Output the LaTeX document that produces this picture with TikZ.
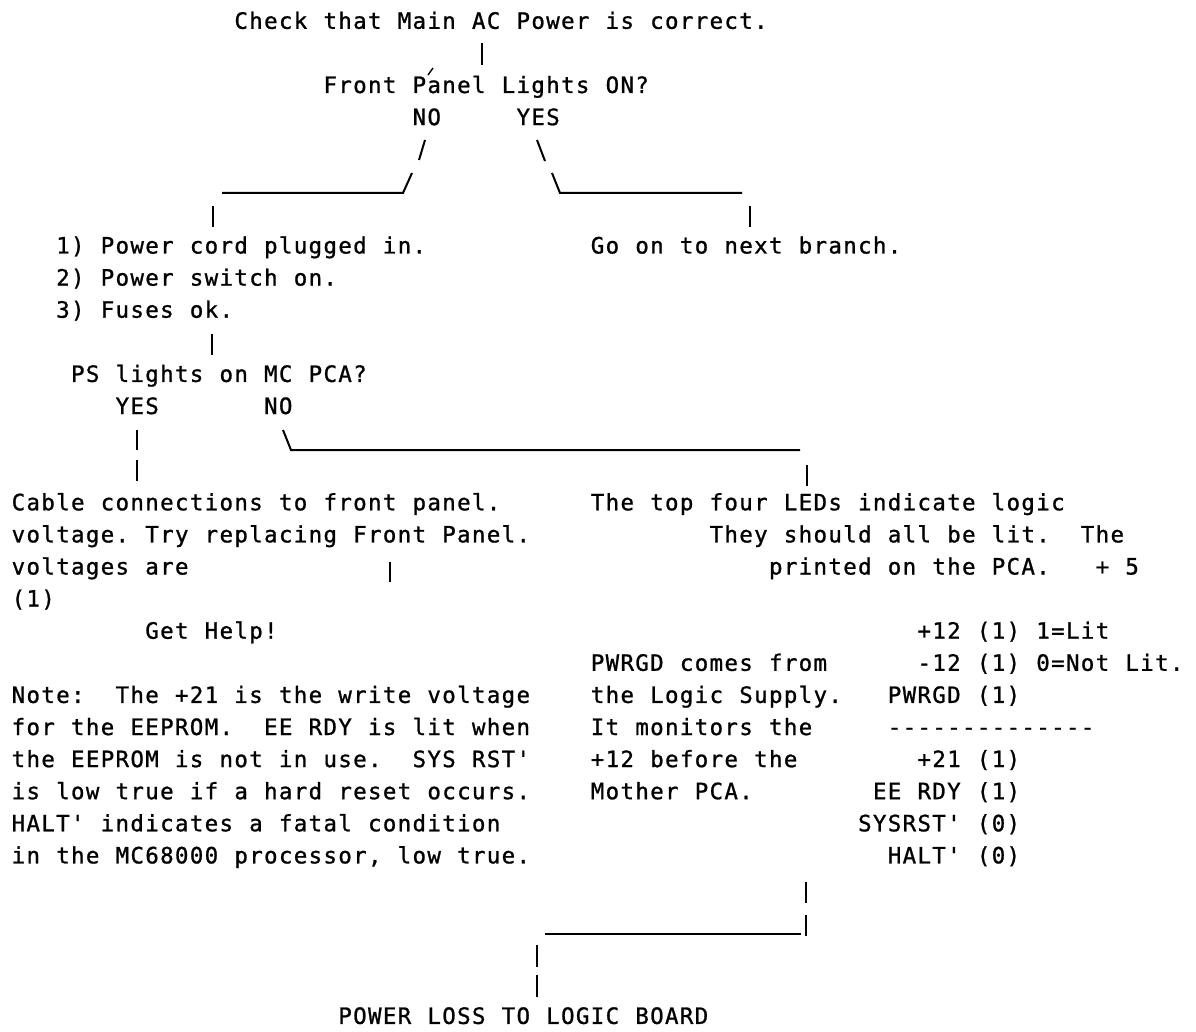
\documentclass[tikz,border=0pt]{standalone}
\usepackage{fontspec}
\newfontfamily\dvmono{DejaVu Sans Mono}[FakeBold=1]
\ExplSyntaxOn
\dim_new:N \l_rs_pitch_dim
\dim_set:Nn \l_rs_pitch_dim {14.85pt}
\NewDocumentCommand \mono {m}
 {
  \str_map_inline:nn {#1}
   {
    \str_if_eq:nnTF {##1} {`}
     { \hbox_to_wd:nn { \l_rs_pitch_dim } { } }
     { \hbox_to_wd:nn { \l_rs_pitch_dim } { \hss ##1 \hss } }
   }
 }
\ExplSyntaxOff
\newcommand\rowtext[4]{\node[txt] (#1) at ({11+#2*14.85},{28.8+#3*32.1}) {\mono{#4}};}
\tikzset{
  txt/.style={inner sep=0pt, outer sep=0pt, anchor=base west, font=\dvmono\fontsize{22.5}{26}\selectfont},
  ln/.style={line width=2pt},
  bar/.style={line width=2.4pt},
  thinbar/.style={line width=1.6pt},
}
\begin{document}
\begin{tikzpicture}[x=1pt,y=-1pt]
\useasboundingbox (0,0) rectangle (1196,1032);
% ---- texts ----
\rowtext{check}{15}{0}{Check that Main AC Power is correct.}
\rowtext{front}{21}{2}{Front Panel Lights ON?}
\rowtext{no1}{27}{3}{NO}
\rowtext{yes1}{34}{3}{YES}
\rowtext{l1}{3}{7}{1) Power cord plugged in.}
\rowtext{goon}{39}{7}{Go on to next branch.}
\rowtext{l2}{3}{8}{2) Power switch on.}
\rowtext{l3}{3}{9}{3) Fuses ok.}
\rowtext{ps}{4}{11}{PS lights on MC PCA?}
\rowtext{yes2}{7}{12}{YES}
\rowtext{no2}{17}{12}{NO}
\rowtext{cab1}{0}{15}{Cable connections to front panel.}
\rowtext{cab2}{0}{16}{voltage. Try replacing Front Panel.}
\rowtext{cab3}{0}{17}{voltages are}
\rowtext{cab4}{0}{18}{(1)}
\rowtext{help}{9}{19}{Get Help!}
\rowtext{led1}{39}{15}{The top four LEDs indicate logic}
\rowtext{led2}{47}{16}{They should all be lit.``The}
\rowtext{led3}{51}{17}{printed on the PCA.```+ 5}
\rowtext{v12}{61}{19}{+12 (1) 1=Lit}
\rowtext{vm12}{61}{20}{-12 (1) 0=Not Lit.}
\rowtext{pw1}{39}{20}{PWRGD comes from}
\rowtext{pw2}{39}{21}{the Logic Supply.}
\rowtext{pw3}{39}{22}{It monitors the}
\rowtext{pw4}{39}{23}{+12 before the}
\rowtext{pw5}{39}{24}{Mother PCA.}
\rowtext{pwrgd}{59}{21}{PWRGD (1)}
\rowtext{dash}{59}{22}{--------------}
\rowtext{v21}{61}{23}{+21 (1)}
\rowtext{eerdy}{58}{24}{EE RDY (1)}
\rowtext{sysrst}{57}{25}{SYSRST' (0)}
\rowtext{halt}{59}{26}{HALT' (0)}
\rowtext{n1}{0}{21}{Note:``The +21 is the write voltage}
\rowtext{n2}{0}{22}{for the EEPROM.``EE RDY is lit when}
\rowtext{n3}{0}{23}{the EEPROM is not in use.``SYS RST'}
\rowtext{n4}{0}{24}{is low true if a hard reset occurs.}
\rowtext{n5}{0}{25}{HALT' indicates a fatal condition}
\rowtext{n6}{0}{26}{in the MC68000 processor, low true.}
\rowtext{loss}{22}{31}{POWER LOSS TO LOGIC BOARD}
% ---- connector marks ----
\coordinate (a1) at (482,43); \coordinate (a2) at (482,65);
\draw[bar] (a1) -- (a2);
\draw[line width=1.4pt] (428,75) -- (433,68);
\coordinate (s1a) at (425,140); \coordinate (s1b) at (419,160);
\draw[ln] (s1a) -- (s1b);
\coordinate (s2a) at (537,140); \coordinate (s2b) at (545,161);
\draw[ln] (s2a) -- (s2b);
\coordinate (hl1) at (222,193); \coordinate (hl2) at (403,193); \coordinate (hl3) at (412,173);
\draw[ln] (hl1) -- (hl2) -- (hl3);
\coordinate (hr1) at (552,173); \coordinate (hr2) at (560,193); \coordinate (hr3) at (742,193);
\draw[ln] (hr1) -- (hr2) -- (hr3);
\draw[bar] (213,206) -- (213,227);
\draw[bar] (750,206) -- (750,227);
\draw[bar] (212,334) -- (212,355);
\draw[thinbar] (137,430) -- (137,450);
\coordinate (nb1) at (283,430); \coordinate (nb2) at (291,450); \coordinate (nb3) at (800,450);
\draw[ln] (nb1) -- (nb2) -- (nb3);
\draw[bar] (137,460) -- (137,481);
\draw[bar] (807,465) -- (807,486);
\draw[bar] (390,562) -- (390,582);
\draw[bar] (806,882) -- (806,903);
\draw[bar] (806,915) -- (806,936);
\coordinate (bl1) at (545,934); \coordinate (bl2) at (801,934);
\draw[ln] (bl1) -- (bl2);
\draw[bar] (537,945) -- (537,967);
\draw[bar] (537,975) -- (537,997);
\end{tikzpicture}
\end{document}
